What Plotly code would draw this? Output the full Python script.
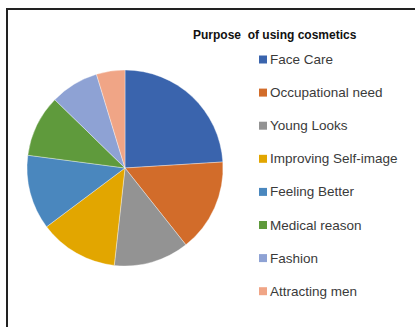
import plotly.graph_objects as go

labels = ["Face Care", "Occupational need", "Young Looks", "Improving Self-image",
          "Feeling Better", "Medical reason", "Fashion", "Attracting men"]
values = [24.0, 15.3, 12.4, 13.0, 12.3, 10.2, 8.0, 4.7]
colors = ["#3A64AD", "#D26C2A", "#939393", "#E2A600",
          "#4A87BE", "#5F9A3C", "#8EA2D4", "#F0A586"]
title_text = "Purpose  of using cosmetics"

W, H = 415, 327

def px(x):
    return x / W

def py(y):
    return 1 - y / H

fig = go.Figure()
fig.add_trace(go.Pie(
    labels=labels, values=values, sort=False, direction="clockwise", rotation=0,
    marker=dict(colors=colors, line=dict(color="rgba(255,255,255,0.6)", width=0.6)),
    textinfo="none", showlegend=False, hoverinfo="label+value",
    domain=dict(x=[px(27), px(223)], y=[py(266), py(70)]),
))

shapes = [dict(type="line", xref="paper", yref="paper", x0=px(7), x1=px(7), y0=py(8.5), y1=py(330),
               line=dict(color="#222222", width=2)),
          dict(type="line", xref="paper", yref="paper", x0=px(6), x1=px(420), y0=py(9), y1=py(9),
               line=dict(color="#222222", width=2))]
annotations = [dict(text="<b>" + title_text + "</b>", xref="paper", yref="paper", x=px(191), y=py(35),
                    xanchor="left", yanchor="middle", showarrow=False,
                    font=dict(family="Liberation Sans", size=12, color="#111111"))]

y0 = 59.5
step = 33.1
for i, (lab, col) in enumerate(zip(labels, colors)):
    yc = y0 + i * step
    shapes.append(dict(type="rect", xref="paper", yref="paper",
                       x0=px(259), x1=px(267), y0=py(yc - 4), y1=py(yc + 4),
                       fillcolor=col, line=dict(width=0)))
    annotations.append(dict(text=lab, xref="paper", yref="paper", x=px(268), y=py(yc),
                            xanchor="left", yanchor="middle", showarrow=False,
                            font=dict(family="Liberation Sans", size=13.5, color="#3a3a3a")))

fig.update_layout(width=W, height=H, margin=dict(l=0, r=0, t=0, b=0),
                  paper_bgcolor="white", plot_bgcolor="white",
                  shapes=shapes, annotations=annotations)
fig.write_html("out.html", config={"displayModeBar": False},
               post_script="document.body.style.margin='0';")
